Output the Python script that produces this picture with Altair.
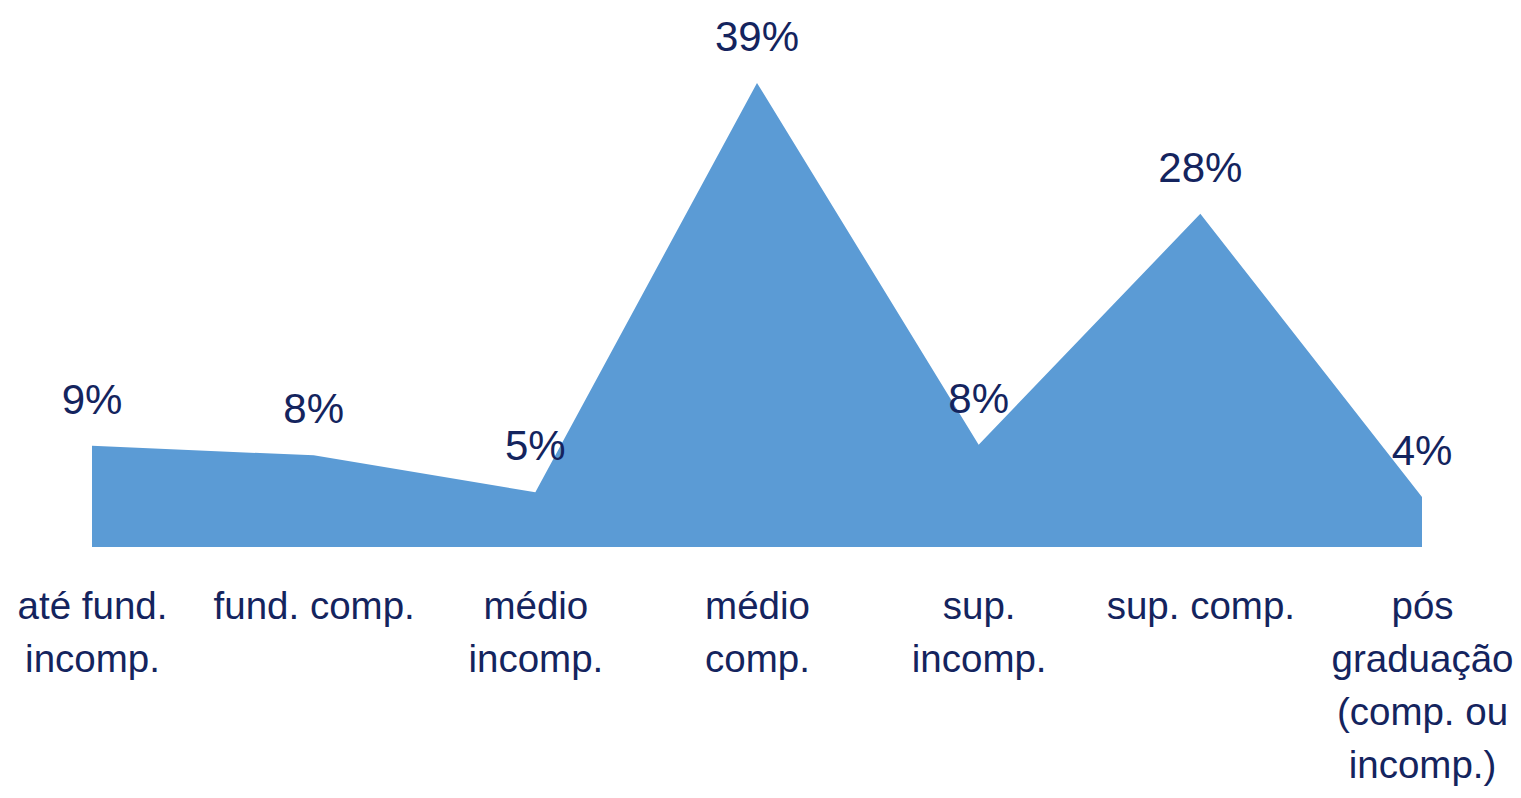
import altair as alt
import pandas as pd

categories = [
    "até fund.\nincomp.",
    "fund. comp.",
    "médio\nincomp.",
    "médio\ncomp.",
    "sup.\nincomp.",
    "sup. comp.",
    "pós\ngraduação\n(comp. ou\nincomp.)",
]
values = [8.5, 7.7, 4.6, 39.0, 8.6, 28.0, 4.2]
labels = ["9%", "8%", "5%", "39%", "8%", "28%", "4%"]

df = pd.DataFrame({"cat": categories, "value": values, "label": labels})

FONT = "Liberation Sans Narrow, Arial Narrow, Liberation Sans, Arial, sans-serif"
NAVY = "#14245E"

x = alt.X(
    "cat:N",
    sort=categories,
    scale=alt.Scale(type="point", padding=0),
    axis=alt.Axis(
        title=None,
        labelAngle=0,
        labelExpr="split(datum.label, '\\n')",
        labelFont=FONT,
        labelFontSize=38.5,
        labelLineHeight=53,
        labelColor=NAVY,
        labelBaseline="top",
        labelPadding=41,
        labelLimit=400,
        domain=False,
        ticks=False,
        grid=False,
    ),
)
y = alt.Y("value:Q", scale=alt.Scale(domain=[0, 40], nice=False), axis=None)

area = alt.Chart(df).mark_area(color="#5B9BD5", opacity=1, interpolate="linear").encode(x=x, y=y)
text = alt.Chart(df).mark_text(
    font=FONT, fontSize=42, color=NAVY, dy=-32, baseline="alphabetic", align="center"
).encode(x=x, y=y, text="label:N")

chart = (
    alt.layer(area, text)
    .properties(
        width=1330,
        height=476,
        autosize=alt.AutoSizeParams(type="none"),
        padding={"left": 84, "top": 63, "right": 91, "bottom": 241},
    )
    .configure(background="white")
    .configure_view(stroke="transparent", strokeWidth=0)
)

chart.save("out.html", embed_options={"renderer": "svg", "actions": False})
